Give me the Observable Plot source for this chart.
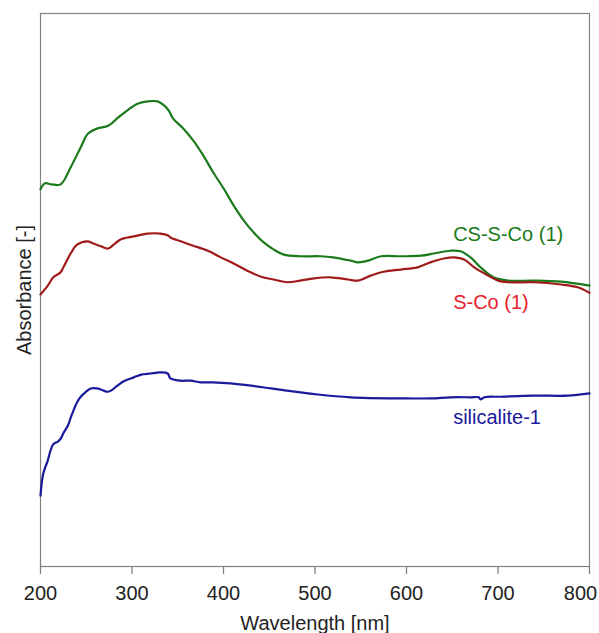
<!DOCTYPE html>
<html>
<head>
<meta charset="utf-8">
<script src="https://cdn.jsdelivr.net/npm/d3@7"></script>
<script src="https://cdn.jsdelivr.net/npm/@observablehq/plot@0.6"></script>
<style>
  html, body { margin: 0; padding: 0; background: #fff; }
  svg { display: block; }
</style>
</head>
<body>
<div id="chart"></div>
<script>
// Wavelength (nm) and absorbance (arbitrary units)
const csWavelength = [200,205,212,222,233,244,252,262,274,285,295,306,317,328,335,340,345,356,367,378,389,400,411,422,433,444,455,466,484,506,520,539,547,558,572,594,616,630,648,659,670,681,695,711,739,769,800];
const csAbsorbance = [0.682,0.693,0.691,0.691,0.722,0.758,0.783,0.792,0.797,0.812,0.825,0.837,0.841,0.841,0.834,0.825,0.810,0.792,0.770,0.743,0.712,0.684,0.653,0.626,0.604,0.586,0.573,0.564,0.561,0.561,0.559,0.553,0.550,0.553,0.561,0.561,0.562,0.566,0.571,0.570,0.559,0.541,0.523,0.517,0.517,0.515,0.508];

const scoWavelength = [200,208,214,222,225,233,240,251,258,266,274,280,287,302,317,331,339,342,353,367,383,397,411,426,441,455,470,484,499,517,536,547,561,575,594,612,626,641,652,663,674,685,700,711,739,769,787,800];
const scoAbsorbance = [0.492,0.508,0.523,0.532,0.541,0.566,0.582,0.588,0.584,0.579,0.575,0.582,0.591,0.597,0.602,0.602,0.599,0.595,0.588,0.580,0.571,0.559,0.548,0.535,0.524,0.519,0.514,0.517,0.521,0.523,0.519,0.517,0.526,0.533,0.537,0.541,0.550,0.557,0.559,0.555,0.541,0.530,0.517,0.514,0.514,0.510,0.505,0.495];

const silWavelength = [200,203,208,211,214,219,222,225,230,233,236,240,244,249,255,262,269,273,277,284,291,302,310,320,331,339,342,353,364,375,389,408,430,452,484,503,539,594,627,648,670,679,681,685,703,739,776,800];
const silAbsorbance = [0.128,0.168,0.192,0.210,0.221,0.226,0.231,0.241,0.255,0.269,0.282,0.297,0.307,0.315,0.322,0.322,0.318,0.316,0.318,0.327,0.335,0.342,0.347,0.349,0.351,0.349,0.340,0.336,0.336,0.333,0.333,0.331,0.327,0.322,0.315,0.311,0.306,0.304,0.304,0.306,0.306,0.306,0.302,0.306,0.307,0.309,0.309,0.313];

const xTicks = [200,300,400,500,600,700,800];

const seriesNames = ["CS-S-Co (1)", "S-Co (1)", "silicalite-1"];
const lineColors = ["#1b7a1b", "#a01a1a", "#1a1a9c"];
const labelColors = ["#1b7a1b", "#e8202a", "#1a1a9c"];
const labelX = [651, 651, 651];
const labelY = [0.601, 0.478, 0.270];

const toRows = (w, a) => w.map((x, i) => ({x, y: a[i]}));
const cs = toRows(csWavelength, csAbsorbance);
const sco = toRows(scoWavelength, scoAbsorbance);
const sil = toRows(silWavelength, silAbsorbance);
const labels = seriesNames.map((name, i) => ({name, x: labelX[i], y: labelY[i], color: labelColors[i]}));

const font = "Liberation Sans, Arial, sans-serif";
const lastTick = xTicks[xTicks.length - 1];

const chart = Plot.plot({
  width: 599,
  height: 633,
  marginLeft: 40,
  marginRight: 10,
  marginTop: 13,
  marginBottom: 67,
  style: {fontFamily: font, background: "#fff"},
  x: {domain: [200, 800]},
  y: {domain: [0, 1], axis: null},
  marks: [
    Plot.frame({stroke: "#808080", strokeWidth: 1.2}),
    Plot.axisX({
      ticks: xTicks,
      tickFormat: (d) => (d === lastTick ? "" : String(d)),
      tickSize: 8,
      tickPadding: 11,
      fontSize: 20,
      stroke: "#808080",
      strokeWidth: 1.3,
      fill: "#222",
      label: "Wavelength [nm]",
      labelAnchor: "center",
      labelArrow: "none",
      labelOffset: 63
    }),
    Plot.axisX({
      ticks: [lastTick],
      tickSize: 8,
      tickPadding: 11,
      fontSize: 20,
      strokeOpacity: 0,
      fill: "#222",
      dx: -9,
      label: null
    }),
    Plot.text(["Absorbance [-]"], {
      frameAnchor: "left",
      textAnchor: "middle",
      lineAnchor: "middle",
      rotate: -90,
      dx: -16,
      fontSize: 20,
      fill: "#222"
    }),
    Plot.line(cs, {x: "x", y: "y", stroke: lineColors[0], strokeWidth: 2.2, curve: "catmull-rom"}),
    Plot.line(sco, {x: "x", y: "y", stroke: lineColors[1], strokeWidth: 2.2, curve: "catmull-rom"}),
    Plot.line(sil, {x: "x", y: "y", stroke: lineColors[2], strokeWidth: 2.2, curve: "catmull-rom"}),
    Plot.text(labels, {x: "x", y: "y", text: "name", fill: "color", fontSize: 20, textAnchor: "start", lineAnchor: "middle"})
  ]
});
document.getElementById("chart").appendChild(chart);
</script>
</body>
</html>
